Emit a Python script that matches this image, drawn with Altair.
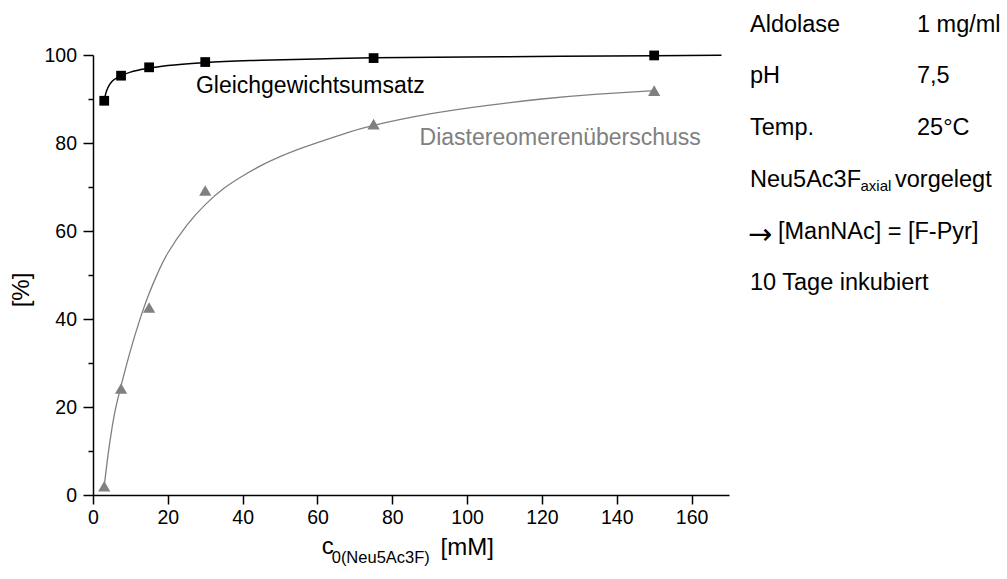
import altair as alt
import pandas as pd

FONT = "Liberation Sans"

# measured data
conc = [3, 7.5, 15, 30, 75, 150]
umsatz = [89.6, 95.3, 97.2, 98.4, 99.3, 99.9]
de_excess = [2.0, 24.2, 42.6, 69.2, 84.3, 91.9]

# fitted curves
fit_umsatz_x = [3, 3.5, 4, 5, 6, 7.5, 10, 15, 20, 30, 45, 60, 75, 100, 125, 150, 168]
fit_umsatz_y = [89.8, 91.5, 92.6, 93.9, 94.6, 95.3, 96.1, 97.0, 97.6, 98.3, 98.8, 99.1,
                99.35, 99.55, 99.7, 99.85, 99.95]
fit_de_x = [3, 4, 5, 6, 7.5, 10, 12.5, 15, 17.5, 20, 25, 30, 35, 40, 45, 50, 55, 60, 67.5,
            75, 90, 105, 120, 135, 150]
fit_de_y = [2, 9.0, 14.8, 19.5, 24.8, 32.8, 39.8, 45.8, 50.8, 55.0, 61.2, 66.0, 69.7, 72.5,
            74.9, 76.9, 78.6, 80.1, 82.2, 84.0, 86.6, 88.5, 90.0, 91.1, 91.9]

info_labels = ["Aldolase", "pH", "Temp."]
info_values = ["1 mg/ml", "7,5", "25°C"]

pts_u = pd.DataFrame({"x": conc, "y": umsatz})
pts_d = pd.DataFrame({"x": conc, "y": de_excess})
fit_u = pd.DataFrame({"x": fit_umsatz_x, "y": fit_umsatz_y})
fit_d = pd.DataFrame({"x": fit_de_x, "y": fit_de_y})

major = "datum.value % 20 === 0"

x_axis = alt.Axis(
    values=list(range(0, 171, 10)),
    labelExpr=f"{major} ? datum.label : ''",
    tickSize={"condition": {"test": major, "value": 9}, "value": 5},
    grid=False, domainColor="black", tickColor="black",
    domainWidth=1.5, tickWidth=1.5,
    labelFont=FONT, labelFontSize=19.5, labelColor="black",
    labelPadding=4, labelFlush=False, labelOverlap=False, title=None,
)
y_axis = alt.Axis(
    values=list(range(0, 101, 10)),
    labelExpr=f"{major} ? datum.label : ''",
    tickSize={"condition": {"test": major, "value": 10}, "value": 5},
    grid=False, domainColor="black", tickColor="black",
    domainWidth=1.5, tickWidth=1.5,
    labelFont=FONT, labelFontSize=19.5, labelColor="black",
    labelPadding=6.5, labelFlush=False, labelOverlap=False, title=None,
)

XS = alt.Scale(domain=[0, 170], nice=False, zero=False)
YS = alt.Scale(domain=[0, 100], nice=False, zero=False)
X = alt.X("x:Q", scale=XS, axis=x_axis)
Y = alt.Y("y:Q", scale=YS, axis=y_axis)

gray = "#808080"

line_d = alt.Chart(fit_d).mark_line(color=gray, strokeWidth=1.3, interpolate="natural").encode(x=X, y=Y)
pt_d = alt.Chart(pts_d).mark_point(shape="triangle-up", filled=True, size=150, color=gray, opacity=1).encode(x=X, y=Y)
line_u = alt.Chart(fit_u).mark_line(color="black", strokeWidth=1.5, interpolate="monotone").encode(x=X, y=Y)
pt_u = alt.Chart(pts_u).mark_point(shape="square", filled=True, size=95, color="black", opacity=1).encode(x=X, y=Y)

layers = [line_d, pt_d, line_u, pt_u]

# curve labels (data coordinates)
lab_df = pd.DataFrame({"x": [27.5, 87.3], "y": [91.4, 79.5],
                       "t": ["Gleichgewichtsumsatz", "Diastereomerenüberschuss"],
                       "c": ["black", gray]})
layers.append(alt.Chart(lab_df).mark_text(font=FONT, fontSize=23, align="left", baseline="alphabetic").encode(
    x=alt.X("x:Q", scale=XS), y=alt.Y("y:Q", scale=YS),
    text="t:N", color=alt.Color("c:N", scale=None)))


def txt(s, x, y, size=23.5, font=FONT, **kw):
    return alt.Chart(pd.DataFrame({"a": [0]})).mark_text(
        font=font, fontSize=size, align=kw.pop("align", "left"),
        baseline=kw.pop("baseline", "alphabetic"), color="black", **kw
    ).encode(x=alt.value(x), y=alt.value(y), text=alt.value(s))


# info panel
row_y = [-23.3, 28.3, 80.0, 131.7, 183.5, 235.3]
for i, (l, v) in enumerate(zip(info_labels, info_values)):
    layers.append(txt(l, 657, row_y[i]))
    layers.append(txt(v, 824, row_y[i]))
layers.append(txt("Neu5Ac3F", 657, row_y[3]))
layers.append(txt("axial", 767.5, row_y[3] + 4, size=15))
layers.append(txt("vorgelegt", 802, row_y[3]))
layers.append(txt("→", 655, row_y[4] + 5, size=29, font="DejaVu Sans"))
layers.append(txt("[ManNAc] = [F-Pyr]", 685, row_y[4]))
layers.append(txt("10 Tage inkubiert", 657, row_y[5]))

# axis titles
layers.append(txt("c", 228.7, 499, size=24))
layers.append(txt("0(Neu5Ac3F)", 238.7, 508.3, size=16.5))
layers.append(txt("[mM]", 347.5, 500, size=24))
layers.append(txt("[%]", -71.3, 235, size=24, align="center", baseline="middle", angle=270))

chart = alt.layer(*layers).properties(
    width=636, height=440,
    autosize=alt.AutoSizeParams(type="none"),
    padding={"left": 93, "top": 55, "right": 278, "bottom": 84},
    background="white",
).configure_view(stroke=None)

chart.save("out.html", embed_options={"renderer": "svg", "actions": False})
